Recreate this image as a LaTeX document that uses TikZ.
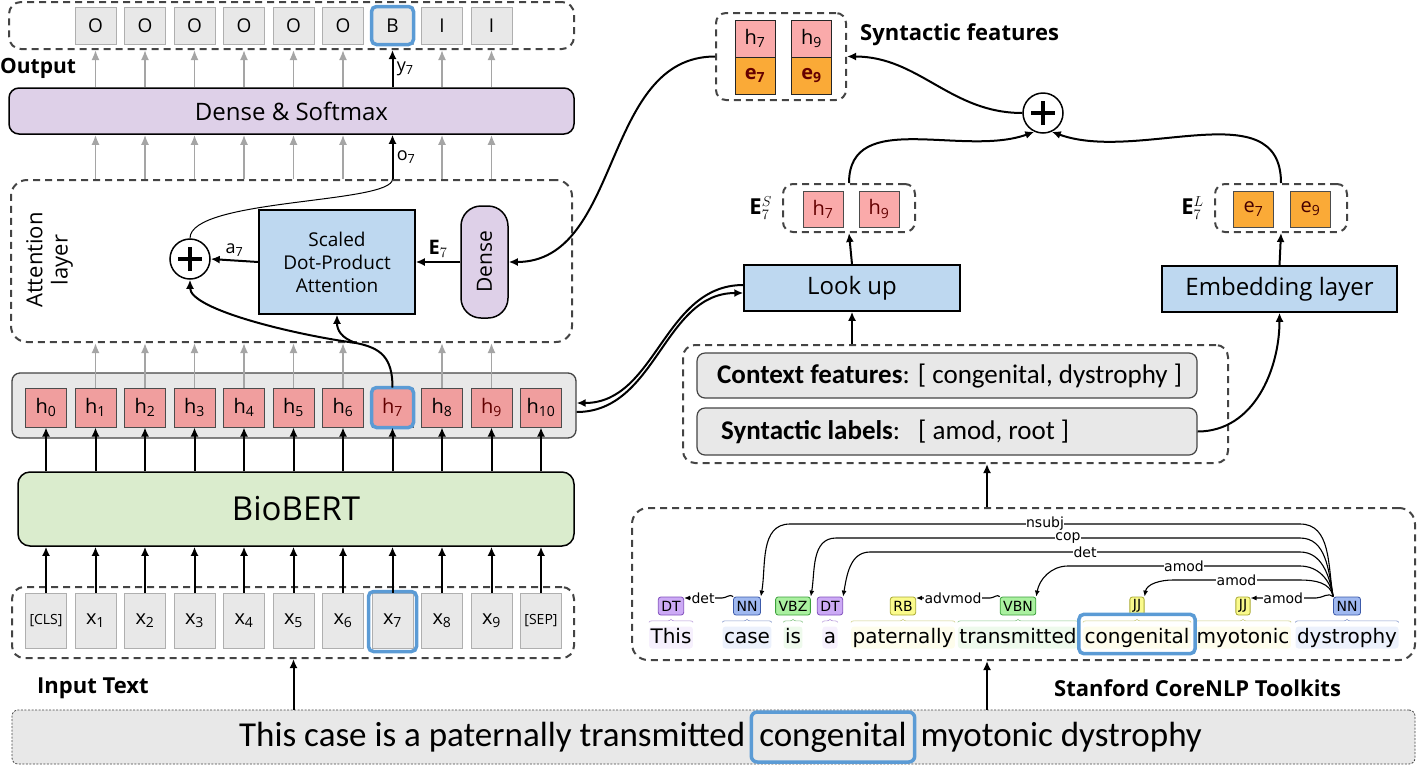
\documentclass[tikz,border=0pt]{standalone}
\usepackage{fontspec}
\setmainfont{Open Sans}
\newfontfamily\calfont{Carlito}
\newfontfamily\depfont{DejaVu Sans}
\usetikzlibrary{arrows.meta,positioning,calc,decorations.pathreplacing}

\definecolor{boxgray}{RGB}{232,232,232}
\definecolor{linegray}{RGB}{68,68,68}
\definecolor{cellline}{RGB}{175,175,175}
\definecolor{lavender}{RGB}{222,208,232}
\definecolor{skyblue}{RGB}{190,216,240}
\definecolor{mintgreen}{RGB}{218,236,205}
\definecolor{salmon}{RGB}{240,158,158}
\definecolor{lightsalmon}{RGB}{250,170,170}
\definecolor{amber}{RGB}{250,170,55}
\definecolor{hlblue}{RGB}{91,155,213}
\definecolor{hred}{RGB}{100,0,0}
\definecolor{arrowgray}{RGB}{165,165,165}
% tag colours of the parser
\definecolor{dtfill}{RGB}{204,170,245}\definecolor{dtline}{RGB}{130,80,190}\definecolor{dtbg}{RGB}{246,240,253}
\definecolor{nnfill}{RGB}{160,185,240}\definecolor{nnline}{RGB}{60,90,170}\definecolor{nnbg}{RGB}{236,241,252}
\definecolor{vbfill}{RGB}{170,240,160}\definecolor{vbline}{RGB}{60,160,60}\definecolor{vbbg}{RGB}{238,250,236}
\definecolor{jjfill}{RGB}{250,250,140}\definecolor{jjline}{RGB}{170,170,50}\definecolor{jjbg}{RGB}{254,253,236}

\newcommand\fsz[2]{\fontsize{#1}{#2}\selectfont}

\tikzset{
  dbox/.style={draw=linegray, line width=2pt, dash pattern=on 7pt off 5pt, rounded corners=12pt, inner sep=0pt},
  panel/.style={draw=black, line width=1.5pt, rounded corners=10pt, inner sep=0pt},
  cell/.style={draw=cellline, line width=1pt, fill=boxgray, minimum width=41pt, inner sep=0pt},
  hcell/.style={draw=gray!60!black, line width=1pt, fill=salmon, minimum width=41pt, minimum height=39pt, inner sep=0pt, font=\fsz{20}{24}},
  fcell/.style={draw=gray!60!black, line width=1pt, minimum width=40pt, minimum height=37pt, inner sep=0pt, font=\fsz{20}{24}},
  plainbox/.style={draw=black, line width=1.5pt, fill=skyblue, inner sep=0pt},
  hl/.style={draw=hlblue, line width=3.5pt, rounded corners=5pt},
  barrow/.style={-{Latex[length=9pt,width=8pt]}, line width=2pt},
  garrow/.style={-{Latex[length=10pt,width=8pt]}, line width=1.8pt, draw=arrowgray},
  oplus/.style={circle, draw, line width=1.5pt, minimum size=40pt, inner sep=0pt,
    path picture={\draw[line width=3.5pt]
      ([xshift=-12pt]path picture bounding box.center) -- ([xshift=12pt]path picture bounding box.center)
      ([yshift=-12pt]path picture bounding box.center) -- ([yshift=12pt]path picture bounding box.center);}},
  word/.style={fill=#1, rounded corners=3pt, inner sep=1.5pt, text height=15pt, text depth=4pt, font=\depfont\fsz{20}{24}, anchor=base},
  tag/.style 2 args={fill=#1, draw=#2, line width=0.8pt, rounded corners=2.5pt, inner xsep=3pt, inner ysep=1pt, minimum height=18pt, font=\depfont\fsz{14}{16}},
  dep/.style={-{Latex[length=6pt,width=5pt]}, line width=1.1pt},
  lab/.style={fill=white, inner sep=0.5pt, font=\depfont\fsz{14}{16}}
}

\begin{document}
\begin{tikzpicture}[x=1pt,y=-1pt]
\useasboundingbox (0,0) rectangle (1418,764);

% left column containers
\node[dbox, minimum width=565pt, minimum height=47pt] (outbox) at (291.5,25.5) {};
\node[panel, fill=lavender, minimum width=565pt, minimum height=46pt, font=\fsz{24}{28}] (dense) at (291.5,111) {Dense \& Softmax};
\node[dbox, rounded corners=16pt, minimum width=561pt, minimum height=162pt] (att) at (291.5,261) {};
\node[panel, draw=linegray, fill=boxgray, rounded corners=8pt, line width=1.3pt, minimum width=564pt, minimum height=65pt] (hrow) at (294,405.5) {};
\node[panel, fill=mintgreen, rounded corners=12pt, minimum width=556pt, minimum height=74pt, font=\fsz{33}{38}] (bert) at (296,509) {BioBERT};
\node[dbox, minimum width=562pt, minimum height=71pt] (inbox) at (293,622.5) {};

\node[font=\bfseries\fsz{21}{24}, anchor=west, inner sep=0pt] (outlab) at (0,68) {Output};
\node[font=\bfseries\fsz{22}{24}, anchor=west, inner sep=0pt] (inlab) at (37,688) {Input Text};

% cells
\foreach \i/\t in {1/O,2/O,3/O,4/O,5/O,6/O,7/B,8/I,9/I}
  \node[cell, minimum height=37pt, font=\fsz{19}{22}] (y\i) at ({46+49.5*\i},25.5) {\t};
\foreach \i/\c in {0/black,1/black,2/black,3/black,4/black,5/black,6/black,7/hred,8/black,9/hred,10/black}
  \node[hcell, text=\c] (h\i) at ({46+49.5*\i},407.5) {h\textsubscript{\i}};
\foreach \i/\t in {0/{\fsz{14}{16}[CLS]},1/x\textsubscript{1},2/x\textsubscript{2},3/x\textsubscript{3},4/x\textsubscript{4},5/x\textsubscript{5},6/x\textsubscript{6},7/x\textsubscript{7},8/x\textsubscript{8},9/x\textsubscript{9},10/{\fsz{14}{16}[SEP]}}
  \node[cell, minimum height=55pt, font=\fsz{20}{24}] (x\i) at ({46+49.5*\i},620.5) {\t};
\draw[hl] (y7.north west) rectangle (y7.south east);
\draw[hl] (h7.north west) rectangle (h7.south east);
\draw[hl] ($(x7.north west)+(-3,-1)$) rectangle ($(x7.south east)+(3,3)$);

% vertical arrows
\foreach \i in {1,...,6,8,9} {
  \draw[garrow] (y\i |- dense.north) -- (y\i |- outbox.south);
  \draw[garrow] (h\i |- att.north) -- (h\i |- dense.south);
  \draw[garrow] (h\i.north) -- (h\i |- att.south);
}
\draw[barrow] (y7 |- dense.north) -- node[right, font=\fsz{18}{20}] {y\textsubscript{7}} (y7 |- outbox.south);
\draw[barrow] (h7 |- att.north) -- node[right, font=\fsz{18}{20}] {o\textsubscript{7}} (h7 |- dense.south);
\foreach \i in {0,...,10} {
  \draw[barrow] (h\i |- bert.north) -- (h\i.south);
  \draw[barrow] (x\i.north) -- (x\i |- bert.south);
}

% attention layer
\node[font=\fsz{22}{25}, align=center] (attlab) at (50,260) {\rotatebox{90}{\begin{tabular}{@{}c@{}}Attention\\layer\end{tabular}}};
\node[oplus] (plus1) at (190,259) {};
\node[plainbox, minimum width=156pt, minimum height=104pt, align=center, font=\fsz{19}{23}] (sdpa) at (337,262) {Scaled\\Dot-Product\\Attention};
\node[panel, fill=lavender, rounded corners=20pt, minimum width=47pt, minimum height=112pt, font=\fsz{21}{24}] (dpill) at (484.5,262) {\rotatebox{90}{Dense}};
\draw[barrow] (dpill.west) -- node[above, font=\fsz{20}{22}] {$\mathbf{E}_7$} (sdpa.east);
\draw[barrow] (sdpa.west) -- node[above, font=\fsz{18}{20}] {a\textsubscript{7}} (plus1.east);
\draw[line width=1pt] (plus1.north) .. controls +(0,-40) and +(0,25) .. (h7 |- att.north);
\coordinate (fork) at (356,343);
\draw[barrow] (h7.north) .. controls +(0,-30) and +(25,5) .. (fork) .. controls +(-60,-8) and +(0,30) .. (plus1.south);
\draw[barrow] (fork) .. controls +(-15,-5) and +(0,15) .. (sdpa.south);

% syntactic features
\node[dbox, rounded corners=10pt, minimum width=130pt, minimum height=87pt] (synfeat) at (781,56.5) {};
\node[fcell, fill=lightsalmon, draw=black!85] (sh7) at (755,38.5) {h\textsubscript{7}};
\node[fcell, fill=amber, draw=black!85, text=hred, font=\bfseries\fsz{20}{24}] (se7) at (755,75.5) {e\textsubscript{7}};
\node[fcell, fill=lightsalmon, draw=black!85] (sh9) at (811.5,38.5) {h\textsubscript{9}};
\node[fcell, fill=amber, draw=black!85, text=hred, font=\bfseries\fsz{20}{24}] (se9) at (811.5,75.5) {e\textsubscript{9}};
\node[font=\bfseries\fsz{22}{26}, anchor=west, inner sep=0pt] (synlab) at (860,35) {Syntactic features};
\node[oplus] (plus2) at (1043,113) {};

\node[dbox, rounded corners=10pt, minimum width=132pt, minimum height=48pt] (es) at (849,208) {};
\node[fcell, fill=lightsalmon, text=hred, minimum height=36pt] (es7) at (823,209) {h\textsubscript{7}};
\node[fcell, fill=lightsalmon, text=hred, minimum height=36pt] (es9) at (879,209) {h\textsubscript{9}};
\node[left=10pt of es, font=\fsz{22}{24}, inner sep=0pt] (eslab) {$\mathbf{E}^{S}_{7}$};
\node[dbox, rounded corners=10pt, minimum width=132pt, minimum height=48pt] (el) at (1281,208) {};
\node[fcell, fill=amber, text=hred!70!black, minimum height=36pt] (el7) at (1253.5,209) {e\textsubscript{7}};
\node[fcell, fill=amber, text=hred!70!black, minimum height=36pt] (el9) at (1310.5,209) {e\textsubscript{9}};
\node[left=10pt of el, font=\fsz{22}{24}, inner sep=0pt] (ellab) {$\mathbf{E}^{L}_{7}$};

\node[plainbox, minimum width=216pt, minimum height=46pt, font=\fsz{24}{28}] (lookup) at (852,288) {Look up};
\node[plainbox, minimum width=235pt, minimum height=46pt, font=\fsz{24}{28}] (embed) at (1279.5,289) {Embedding layer};

% feature boxes
\node[dbox, minimum width=545pt, minimum height=118pt] (ctxbox) at (955.5,404) {};
\node[panel, draw=linegray, fill=boxgray, rounded corners=8pt, line width=1.2pt, minimum width=500pt, minimum height=45pt] (ctx) at (947,375.5) {};
\node[anchor=west, inner sep=0pt, font=\calfont\fsz{27}{30}] (ctxtext) at (717,376) {\textbf{Context features}: [ congenital, dystrophy ]};
\node[panel, draw=linegray, fill=boxgray, rounded corners=8pt, line width=1.2pt, minimum width=500pt, minimum height=47pt] (lab) at (947,431.5) {};
\node[anchor=west, inner sep=0pt, font=\calfont\fsz{27}{30}] (labtext) at (721,432) {\textbf{Syntactic labels}:\hspace{18pt}[ amod, root ]};

\draw[barrow] (lookup.south |- ctxbox.north) -- (lookup.south);
\draw[barrow] (lookup.north) -- (es.south);
\draw[barrow] (embed.north) -- (el.south);
\draw[barrow] (lab.east) to[out=0,in=-90] (embed.south);
\draw[barrow] (es.north) to[out=90,in=-160] (plus2.-115);
\draw[barrow] (el.north) to[out=90,in=-20] (plus2.-65);
\draw[barrow] (plus2.west) to[out=180,in=0] (synfeat.east);
\draw[barrow] (synfeat.west) to[out=180,in=0] (dpill.east);
\draw[barrow] ([yshift=3pt]lookup.west) to[out=180,in=0] ([yshift=2.5pt]hrow.east);
\draw[barrow] ([yshift=-6.5pt]hrow.east) to[out=0,in=180] ([yshift=-5pt]lookup.west);

% parser
\node[dbox, rounded corners=16pt, minimum width=783pt, minimum height=152pt] (corenlp) at (1023.5,584) {};
\node[font=\bfseries\fsz{22}{26}, anchor=west, inner sep=0pt] (corelab) at (1054,688) {Stanford CoreNLP Toolkits};
\coordinate (tagrow) at (0,606);
\coordinate (shortrow) at (0,598);
\foreach \n/\x/\w/\c in {1/671/This/dtbg,2/747/case/nnbg,3/793/is/vbbg,4/830/a/dtbg,5/903/paternally/jjbg,6/1018/transmitted/vbbg,7/1137/congenital/jjbg,8/1243/myotonic/jjbg,9/1347/dystrophy/nnbg}
  \node[word=\c] (w\n) at (\x,643) {\w};
\foreach \n/\t/\f/\l in {1/DT/dtfill/dtline,2/NN/nnfill/nnline,3/VBZ/vbfill/vbline,4/DT/dtfill/dtline,5/RB/jjfill/jjline,6/VBN/vbfill/vbline,7/JJ/jjfill/jjline,8/JJ/jjfill/jjline,9/NN/nnfill/nnline} {
  \node[tag={\f}{\l}] (p\n) at (w\n |- tagrow) {\t};
  \draw[\l!60, line width=0.6pt, decorate, decoration={brace, amplitude=3pt}] ([yshift=4pt]w\n.north west) -- ([yshift=4pt]w\n.north east);
}
\draw[hl] ($(w7.north west)+(-4,-12)$) rectangle ($(w7.south east)+(4,5)$);

\draw[dep] (p2.north west) to[out=135,in=0] (722,598) -- node[lab] {det} (p1.east |- shortrow);
\draw[dep] (p6.north west) to[out=135,in=0] (990,598) -- node[lab] {advmod} (p5.east |- shortrow);
\draw[dep] (p9.north west) to[out=135,in=0] (1316,598) -- node[lab] {amod} (p8.east |- shortrow);
\draw[dep] (p9.north west) to[out=100,in=0] (1300,524) -- node[lab] {nsubj} (790,524) to[out=180,in=80] (p2.north east);
\draw[dep] (p9.north west) to[out=100,in=0] (1300,538) -- node[lab] {cop} (836,538) to[out=180,in=80] (p3.north east);
\draw[dep] (p9.north west) to[out=100,in=0] (1300,552) -- node[lab] {det} (870,552) to[out=180,in=80] (p4.north east);
\draw[dep] (p9.north west) to[out=100,in=0] (1300,566) -- node[lab] {amod} (1068,566) to[out=180,in=80] (p6.north east);
\draw[dep] (p9.north west) to[out=100,in=0] (1300,580) -- node[lab] {amod} (1173,580) to[out=180,in=80] (p7.north east);

% input sentence
\node[draw=linegray, line width=0.8pt, dash pattern=on 2pt off 1.5pt, fill=boxgray, rounded corners=6pt, minimum width=1403pt, minimum height=54pt] (sent) at (713.5,737) {};
\node[hl, rounded corners=6pt, font=\calfont\fsz{35}{38}, inner xsep=8pt, inner ysep=0pt, minimum height=50pt] (scong) at (833,737) {congenital};
\node[anchor=base east, inner sep=0pt, font=\calfont\fsz{35}{38}] (sleft) at ([xshift=-4pt]scong.base west) {This case is a paternally transmitted};
\node[anchor=base west, inner sep=0pt, font=\calfont\fsz{35}{38}] (sright) at ([xshift=4pt]scong.base east) {myotonic dystrophy};
\coordinate (parsein) at (987,0);
\draw[barrow] (x5 |- sent.north) -- (x5 |- inbox.south);
\draw[barrow] (parsein |- sent.north) -- (parsein |- corenlp.south);
\draw[barrow] (parsein |- corenlp.north) -- (parsein |- ctxbox.south);
\end{tikzpicture}
\end{document}
